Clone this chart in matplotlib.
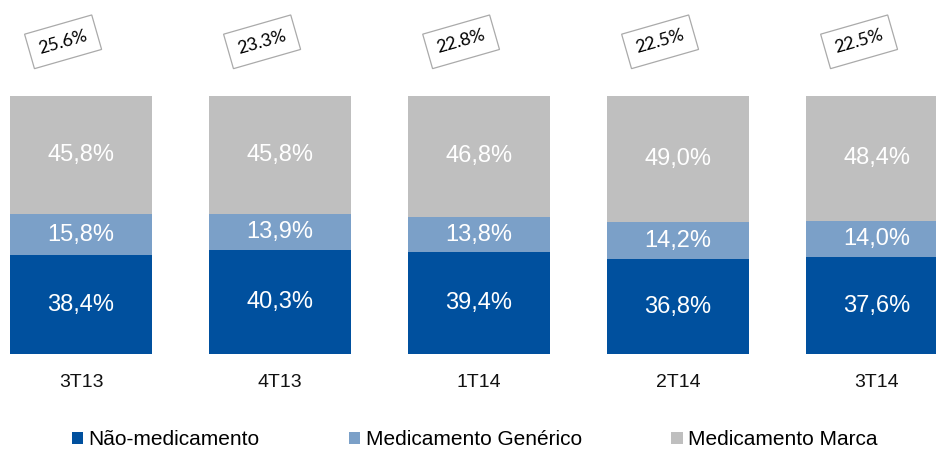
import matplotlib.pyplot as plt
import numpy as np

periodos = ["3T13", "4T13", "1T14", "2T14", "3T14"]
nao_medicamento = [38.4, 40.3, 39.4, 36.8, 37.6]
med_generico = [15.8, 13.9, 13.8, 14.2, 14.0]
med_marca = [45.8, 45.8, 46.8, 49.0, 48.4]
destaque = [25.6, 23.3, 22.8, 22.5, 22.5]

series = [
    ("Não-medicamento", nao_medicamento, "#00509E"),
    ("Medicamento Genérico", med_generico, "#7BA0C8"),
    ("Medicamento Marca", med_marca, "#BFBFBF"),
]

plt.rcParams['font.family'] = ['Liberation Sans', 'DejaVu Sans']

fig = plt.figure(figsize=(9.36, 4.55), dpi=100)
ax = fig.add_axes([0, 0, 1, 1])

x = np.arange(len(periodos))
width = 0.714
bottom = np.zeros(len(periodos))
handles = []
for nome, vals, cor in series:
    b = ax.bar(x, vals, width, bottom=bottom, color=cor, edgecolor="none", label=nome)
    handles.append(b)
    for xi, v, bo in zip(x, vals, bottom):
        ax.text(xi, bo + v / 2, f"{v:.1f}%".replace(".", ","), ha="center", va="center",
                color="white", fontsize=17)
    bottom += np.array(vals)

for xi, p in zip(x, periodos):
    ax.text(xi, -11, p, ha="center", va="center", fontsize=14, color="#111111")

for xi, d in zip(x, destaque):
    ax.text(xi - 0.09, 121, f"{d:.1f}%", ha="center", va="center", rotation=16,
            rotation_mode="anchor", fontsize=13, family=["Lato", "DejaVu Sans"],
            bbox=dict(boxstyle="square,pad=0.55", facecolor="white", edgecolor="#AAAAAA", lw=0.9))

ax.set_xlim(-81 / 199, 855 / 199)
ax.set_ylim(-39.1, 137.2)
ax.axis("off")

fig.legend(handles=handles, labels=[s[0] for s in series], loc="center",
           bbox_to_anchor=(0.507, 0.033), ncol=3, frameon=False, fontsize=15,
           handlelength=0.55, handleheight=0.55, handletextpad=0.25, columnspacing=4.3)

fig.savefig("out.png", dpi=100)
